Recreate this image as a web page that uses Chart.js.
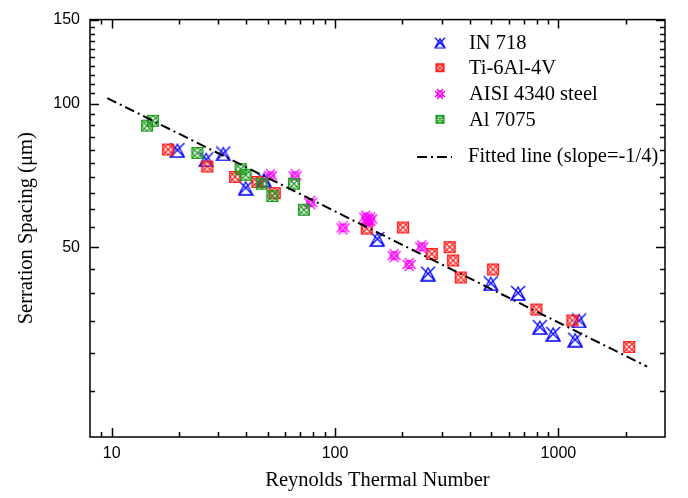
<!DOCTYPE html>
<html>
<head>
<meta charset="utf-8">
<script src="https://cdn.jsdelivr.net/npm/chart.js@4.4.1/dist/chart.umd.min.js"></script>
<style>
    html, body { margin: 0; padding: 0; background: #fff; }
</style>
</head>
<body>
<canvas id="chart" width="688" height="498"></canvas>
<script>
// values
const in718X = [19.7, 26.5, 31.6, 39.8, 48.1, 154.7, 261, 498, 660, 825, 947, 1188, 1238];
const in718Y = [79.9, 76.4, 78.6, 66.6, 69.3, 52.0, 44.0, 42.0, 40.1, 34.0, 32.9, 32.0, 35.1];

const ti64X = [17.9, 26.8, 35.7, 44.9, 53.7, 138.7, 201.6, 271, 326, 337.6, 365.5, 510, 797, 1155, 2073];
const ti64Y = [80.1, 73.8, 70.2, 68.5, 64.9, 54.7, 55.0, 48.4, 50.0, 46.9, 43.2, 44.9, 37.0, 35.1, 30.9];

const aisiX = [51.5, 66.2, 77.8, 108.6, 137.3, 144.5, 141, 183.8, 214.5, 244.5];
const aisiY = [70.6, 70.6, 62.0, 54.9, 57.8, 57.3, 56.6, 48.0, 46.0, 50.1];

const al7075X = [14.4, 15.3, 24.2, 37.8, 39.8, 47.0, 52.4, 65.5, 72.6];
const al7075Y = [89.9, 92.0, 78.8, 72.9, 70.9, 67.9, 64.0, 67.9, 59.9];

const fitX = [9.56, 2495];
const fitY = [102.7, 28.1];

const xMajorTicks = [10, 100, 1000];
const xMinorTicks = [9, 20, 30, 40, 50, 60, 70, 80, 90, 200, 300, 400, 500, 600, 700, 800, 900, 2000];
const yMajorTicks = [50, 100, 150];
const yMinorTicks = [25, 30, 35, 40, 45, 55, 60, 65, 70, 75, 80, 85, 90, 95,
    105, 110, 115, 120, 125, 130, 135, 140, 145];

const BLUE = '#0000ff';
const RED = '#ff1a1a';
const MAGENTA = '#ff00ff';
const GREEN = '#1f9a1f';

function toPoints(xs, ys) {
    return xs.map((x, i) => ({ x: x, y: ys[i] }));
}

// little canvases used as point styles
function makeMarker(kind, color, size, lw) {
    const c = document.createElement('canvas');
    c.width = size + 2;
    c.height = size + 2;
    const g = c.getContext('2d');
    g.strokeStyle = color;
    g.lineWidth = lw;
    const a = 1, b = size + 1, m = (size + 2) / 2;
    g.beginPath();
    if (kind === 'tri') {
        g.moveTo(m, a + 1); g.lineTo(a, b); g.lineTo(b, b); g.closePath();
        g.moveTo(a, a); g.lineTo(b, b);
        g.moveTo(b, a); g.lineTo(a, b);
    } else if (kind === 'box') {
        g.rect(a + 0.5, a + 0.5, size - 1, size - 1);
        g.moveTo(m + size * 0.36, m); g.arc(m, m, size * 0.36, 0, Math.PI * 2);
        g.moveTo(a + 1, a + 1); g.lineTo(b - 1, b - 1);
        g.moveTo(b - 1, a + 1); g.lineTo(a + 1, b - 1);
    } else {
        g.moveTo(m + size * 0.3, m); g.arc(m, m, size * 0.3, 0, Math.PI * 2);
        g.moveTo(a, a + 2); g.lineTo(b - 2, b);
        g.moveTo(a + 2, a); g.lineTo(b, b - 2);
        g.moveTo(b, a + 2); g.lineTo(a + 2, b);
        g.moveTo(b - 2, a); g.lineTo(a, b - 2);
    }
    g.stroke();
    return c;
}

const markers = {
    in718: makeMarker('tri', BLUE, 14, 1.3),
    ti64: makeMarker('box', RED, 12, 1.2),
    aisi: makeMarker('star', MAGENTA, 13, 1.2),
    al7075: makeMarker('box', GREEN, 12, 1.2),
};
const legendMarkers = [
    makeMarker('tri', BLUE, 10, 1.2),
    makeMarker('box', RED, 9, 1.2),
    makeMarker('star', MAGENTA, 10, 1.2),
    makeMarker('box', GREEN, 9, 1.2),
];

const legendItems = ['IN 718', 'Ti-6Al-4V', 'AISI 4340 steel', 'Al 7075'];

function setTicks(majors, minors) {
    return function (scale) {
        scale.ticks = majors.concat(minors).sort((p, q) => p - q).map(v => ({ value: v }));
    };
}

// frame with inward ticks on all four sides
const frameTicks = {
    id: 'frameTicks',
    afterDatasetsDraw(chart) {
        const { ctx, chartArea: ca, scales } = chart;
        ctx.save();
        ctx.strokeStyle = '#000';
        ctx.lineWidth = 1.5;
        ctx.strokeRect(ca.left, ca.top, ca.right - ca.left, ca.bottom - ca.top);
        ctx.beginPath();
        xMajorTicks.concat(xMinorTicks).forEach(v => {
            const len = xMajorTicks.includes(v) ? 9 : 5;
            const px = Math.round(scales.x.getPixelForValue(v)) + 0.5;
            ctx.moveTo(px, ca.bottom); ctx.lineTo(px, ca.bottom - len);
            ctx.moveTo(px, ca.top); ctx.lineTo(px, ca.top + len);
        });
        yMajorTicks.concat(yMinorTicks).forEach(v => {
            const len = yMajorTicks.includes(v) ? 9 : 5;
            const py = Math.round(scales.y.getPixelForValue(v)) + 0.5;
            ctx.moveTo(ca.left, py); ctx.lineTo(ca.left + len, py);
            ctx.moveTo(ca.right, py); ctx.lineTo(ca.right - len, py);
        });
        ctx.stroke();
        ctx.restore();
    }
};

const legendBox = {
    id: 'legendBox',
    afterDraw(chart) {
        const ctx = chart.ctx;
        const rows = [42.7, 67.7, 94, 119.3];
        ctx.save();
        ctx.font = '20.5px "Liberation Serif", "Times New Roman", serif';
        ctx.fillStyle = '#000';
        ctx.textBaseline = 'middle';
        rows.forEach((y, i) => {
            const mk = legendMarkers[i];
            ctx.drawImage(mk, 440 - mk.width / 2, y - mk.height / 2);
            ctx.fillText(legendItems[i], 469, y + 1);
        });
        ctx.strokeStyle = '#000';
        ctx.lineWidth = 2;
        ctx.setLineDash([10, 4, 2, 4]);
        ctx.beginPath();
        ctx.moveTo(417, 157); ctx.lineTo(452, 157);
        ctx.stroke();
        ctx.setLineDash([]);
        ctx.fillText('Fitted line (slope=-1/4)', 468, 157);
        ctx.restore();
    }
};

function scatterSet(label, xs, ys, marker) {
    return {
        type: 'scatter',
        label: label,
        data: toPoints(xs, ys),
        pointStyle: marker,
        pointRadius: 6,
        showLine: false,
    };
}

const ctx = document.getElementById('chart').getContext('2d');
new Chart(ctx, {
    data: {
        datasets: [
            {
                type: 'line',
                label: 'Fitted line (slope=-1/4)',
                data: toPoints(fitX, fitY),
                borderColor: '#000',
                borderWidth: 2,
                borderDash: [10, 4, 2, 4],
                pointRadius: 0,
                fill: false,
            },
            scatterSet('Al 7075', al7075X, al7075Y, markers.al7075),
            scatterSet('AISI 4340 steel', aisiX, aisiY, markers.aisi),
            scatterSet('Ti-6Al-4V', ti64X, ti64Y, markers.ti64),
            scatterSet('IN 718', in718X, in718Y, markers.in718),
        ],
    },
    options: {
        responsive: false,
        animation: false,
        devicePixelRatio: 1,
        layout: { padding: { top: 10, right: 23, left: 0, bottom: 0 } },
        plugins: {
            legend: { display: false },
            tooltip: { enabled: false },
        },
        scales: {
            x: {
                type: 'logarithmic',
                min: 8,
                max: 3000,
                afterBuildTicks: setTicks(xMajorTicks, xMinorTicks),
                afterFit: scale => { scale.height = 61; },
                grid: { display: false, drawTicks: false },
                border: { display: false },
                ticks: {
                    autoSkip: false,
                    maxRotation: 0,
                    padding: 7,
                    color: '#000',
                    font: { family: '"Liberation Sans", Arial, sans-serif', size: 16 },
                    callback: v => (xMajorTicks.includes(v) ? String(v) : ''),
                },
                title: {
                    display: true,
                    text: 'Reynolds Thermal Number',
                    color: '#000',
                    font: { family: '"Liberation Serif", "Times New Roman", serif', size: 20.5 },
                    padding: { top: 0, bottom: 5 },
                },
            },
            y: {
                type: 'logarithmic',
                min: 20,
                max: 150,
                afterBuildTicks: setTicks(yMajorTicks, yMinorTicks),
                afterFit: scale => { scale.width = 90; },
                grid: { display: false, drawTicks: false },
                border: { display: false },
                ticks: {
                    autoSkip: false,
                    padding: 10,
                    color: '#000',
                    font: { family: '"Liberation Sans", Arial, sans-serif', size: 16 },
                    callback: v => (yMajorTicks.includes(v) ? String(v) : ''),
                },
                title: {
                    display: true,
                    text: 'Serration Spacing (μm)',
                    color: '#000',
                    font: { family: '"Liberation Serif", "Times New Roman", serif', size: 20.5 },
                    padding: { top: 14, bottom: 0 },
                },
            },
        },
    },
    plugins: [frameTicks, legendBox],
});
</script>
</body>
</html>
